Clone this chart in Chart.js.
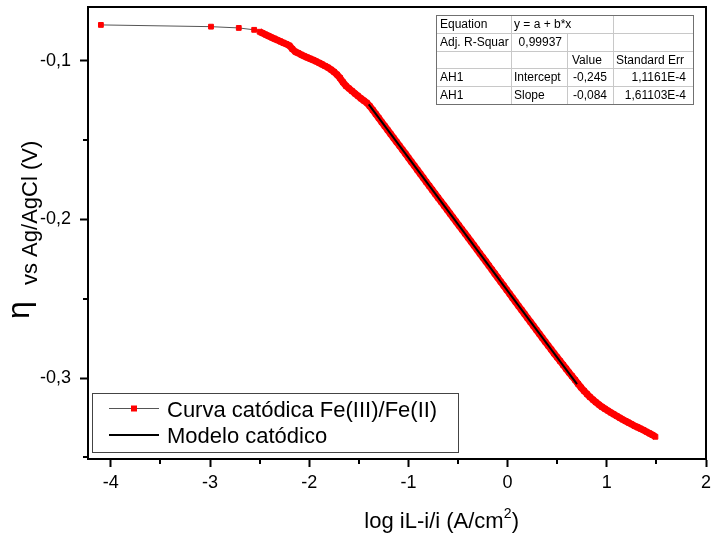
<!DOCTYPE html>
<html>
<head>
<meta charset="utf-8">
<script src="https://cdn.jsdelivr.net/npm/chart.js@4.4.1/dist/chart.umd.min.js"></script>
<style>
html, body { margin: 0; padding: 0; background: #fff; }
</style>
</head>
<body>
<canvas id="polarizationGraph" width="713" height="539"></canvas>
<script>
var fontFamily = "'Liberation Sans', Arial, sans-serif";

// cathodic curve, log((iL-i)/i) vs overpotential
var logCurrent = [
    -4.10, -2.99, -2.71, -2.555,
    -2.50, -2.47, -2.44, -2.41, -2.38, -2.35, -2.32, -2.29, -2.26, -2.23,
    -2.20, -2.17, -2.14, -2.11, -2.08, -2.05, -2.02, -1.99, -1.96, -1.93,
    -1.90, -1.87, -1.84, -1.81, -1.78, -1.75, -1.72, -1.69, -1.66, -1.63,
    -1.60, -1.57, -1.54, -1.51, -1.48, -1.45, -1.42, -1.39, -1.36, -1.33,
    -1.30, -1.27, -1.24, -1.21, -1.18, -1.15, -1.12, -1.09, -1.06, -1.03,
    -1.00, -0.97, -0.94, -0.91, -0.88, -0.85, -0.82, -0.79, -0.76, -0.73,
    -0.70, -0.67, -0.64, -0.61, -0.58, -0.55, -0.52, -0.49, -0.46, -0.43,
    -0.40, -0.37, -0.34, -0.31, -0.28, -0.25, -0.22, -0.19, -0.16, -0.13,
    -0.10, -0.07, -0.04, -0.01, 0.02, 0.05, 0.08, 0.11, 0.14, 0.17,
    0.20, 0.23, 0.26, 0.29, 0.32, 0.35, 0.38, 0.41, 0.44, 0.47,
    0.50, 0.53, 0.56, 0.59, 0.62, 0.65, 0.68, 0.71, 0.74, 0.77,
    0.80, 0.83, 0.86, 0.89, 0.92, 0.95, 0.98, 1.01, 1.04, 1.07,
    1.10, 1.13, 1.16, 1.19, 1.22, 1.25, 1.28, 1.31, 1.34, 1.37,
    1.40, 1.43, 1.46, 1.49
];
var overpotential = [
    -0.0773, -0.0784, -0.0792, -0.0804,
    -0.0816, -0.0825, -0.0834, -0.0843, -0.0852, -0.0860, -0.0869, -0.0877, -0.0886, -0.0894,
    -0.0903, -0.0925, -0.0942, -0.0951, -0.0961, -0.0970, -0.0978, -0.0986, -0.0994, -0.1003,
    -0.1012, -0.1022, -0.1032, -0.1042, -0.1055, -0.1069, -0.1086, -0.1107, -0.1134, -0.1157,
    -0.1173, -0.1189, -0.1205, -0.1220, -0.1236, -0.1250, -0.1264, -0.1285, -0.1309, -0.1334,
    -0.1359, -0.1385, -0.1410, -0.1435, -0.1460, -0.1485, -0.1510, -0.1535, -0.1560, -0.1585,
    -0.1611, -0.1636, -0.1661, -0.1687, -0.1712, -0.1737, -0.1763, -0.1788, -0.1813, -0.1838,
    -0.1863, -0.1888, -0.1913, -0.1938, -0.1963, -0.1988, -0.2013, -0.2038, -0.2063, -0.2088,
    -0.2113, -0.2138, -0.2163, -0.2188, -0.2214, -0.2239, -0.2264, -0.2290, -0.2315, -0.2341,
    -0.2366, -0.2392, -0.2417, -0.2443, -0.2468, -0.2494, -0.2519, -0.2545, -0.2570, -0.2595,
    -0.2621, -0.2646, -0.2671, -0.2696, -0.2721, -0.2746, -0.2771, -0.2796, -0.2820, -0.2845,
    -0.2869, -0.2893, -0.2917, -0.2941, -0.2965, -0.2988, -0.3011, -0.3036, -0.3059, -0.3080,
    -0.3100, -0.3119, -0.3136, -0.3152, -0.3167, -0.3181, -0.3193, -0.3205, -0.3217, -0.3228,
    -0.3239, -0.3250, -0.3261, -0.3271, -0.3281, -0.3291, -0.3301, -0.3310, -0.3319, -0.3328,
    -0.3338, -0.3348, -0.3358, -0.3370
];

// linear model (Tafel fit)
var modelX = [-1.40, 0.70];
var modelY = [-0.1274, -0.3038];

var xTicks = [-4, -3, -2, -1, 0, 1, 2];
var xMinorTicks = [-3.5, -2.5, -1.5, -0.5, 0.5, 1.5];
var yTicks = [-0.3, -0.2, -0.1];
var yMinorTicks = [-0.35, -0.25, -0.15];

var tableRows = [
    ["Equation", "y = a + b*x", "", ""],
    ["Adj. R-Squar", "0,99937", "", ""],
    ["", "", "Value", "Standard Err"],
    ["AH1", "Intercept", "-0,245", "1,1161E-4"],
    ["AH1", "Slope", "-0,084", "1,61103E-4"]
];

var curvePoints = logCurrent.map((x, i) => ({ x: x, y: overpotential[i] }));
var modelPoints = modelX.map((x, i) => ({ x: x, y: modelY[i] }));

function decimalComma(value) {
    return String(value).replace(".", ",");
}

// dense stretches of the recorded curve merge into a solid red band
function isDenseSegment(ctx) {
    return ctx.p1.parsed.x - ctx.p0.parsed.x < 0.04;
}

var extrasPlugin = {
    id: "extras",
    afterDraw: function (chart) {
        var ctx = chart.ctx;
        var area = chart.chartArea;
        var xs = chart.scales.x;
        var ys = chart.scales.y;
        ctx.save();

        // frame top and right
        ctx.strokeStyle = "#000";
        ctx.lineWidth = 2;
        ctx.beginPath();
        ctx.moveTo(area.left, area.top);
        ctx.lineTo(area.right, area.top);
        ctx.lineTo(area.right, area.bottom);
        ctx.stroke();

        // minor ticks
        ctx.beginPath();
        for (var v of xMinorTicks) {
            var px = Math.round(xs.getPixelForValue(v));
            ctx.moveTo(px, area.bottom);
            ctx.lineTo(px, area.bottom + 5);
        }
        for (var v of yMinorTicks) {
            var py = Math.round(ys.getPixelForValue(v));
            ctx.moveTo(area.left, py);
            ctx.lineTo(area.left - 5, py);
        }
        ctx.stroke();

        // axis titles
        ctx.fillStyle = "#000";
        ctx.textBaseline = "alphabetic";
        ctx.textAlign = "left";
        ctx.font = "22px " + fontFamily;
        var xTitle = "log iL-i/i (A/cm";
        var tw = ctx.measureText(xTitle).width;
        var tx = 444 - (tw + 20) / 2;
        ctx.fillText(xTitle, tx, 528);
        ctx.font = "14px " + fontFamily;
        ctx.fillText("2", tx + tw, 518);
        ctx.font = "22px " + fontFamily;
        ctx.fillText(")", tx + tw + 8, 528);

        ctx.save();
        ctx.translate(29, 319);
        ctx.rotate(-Math.PI / 2);
        ctx.font = "32px " + fontFamily;
        ctx.fillText("\u03b7", 0, 0);
        ctx.restore();
        ctx.save();
        ctx.translate(37, 285);
        ctx.rotate(-Math.PI / 2);
        ctx.font = "22px " + fontFamily;
        ctx.fillText("vs Ag/AgCl (V)", 0, 0);
        ctx.restore();

        // legend
        ctx.fillStyle = "#fff";
        ctx.fillRect(92.5, 393.5, 366, 59);
        ctx.strokeStyle = "#444";
        ctx.lineWidth = 1;
        ctx.strokeRect(92.5, 393.5, 366, 59);
        ctx.strokeStyle = "#555";
        ctx.beginPath();
        ctx.moveTo(109, 408.5);
        ctx.lineTo(159, 408.5);
        ctx.stroke();
        ctx.fillStyle = "#ff0000";
        ctx.fillRect(131, 405.5, 6, 6);
        ctx.strokeStyle = "#000";
        ctx.lineWidth = 2;
        ctx.beginPath();
        ctx.moveTo(109, 435);
        ctx.lineTo(159, 435);
        ctx.stroke();
        ctx.fillStyle = "#000";
        ctx.font = "22px " + fontFamily;
        ctx.fillText(chart.data.datasets[1].label, 167, 416.5);
        ctx.fillText(chart.data.datasets[0].label, 167, 443);

        // fit table
        var cols = [436, 511, 567, 613, 693];
        var rows = [15, 33, 51, 68, 86, 104];
        ctx.fillStyle = "#fff";
        ctx.fillRect(cols[0], rows[0], cols[4] - cols[0], rows[5] - rows[0]);
        ctx.strokeStyle = "#c8c8c8";
        ctx.lineWidth = 1;
        ctx.beginPath();
        for (var r = 1; r < 5; r++) {
            ctx.moveTo(cols[0], rows[r] + 0.5);
            ctx.lineTo(cols[4], rows[r] + 0.5);
        }
        for (var c = 1; c < 4; c++) {
            var startRow = (c === 2) ? 1 : 0;
            ctx.moveTo(cols[c] + 0.5, rows[startRow]);
            ctx.lineTo(cols[c] + 0.5, rows[5]);
        }
        ctx.stroke();
        ctx.strokeStyle = "#707070";
        ctx.strokeRect(cols[0] + 0.5, rows[0] + 0.5, cols[4] - cols[0], rows[5] - rows[0]);
        ctx.fillStyle = "#000";
        ctx.font = "12px " + fontFamily;
        for (var r = 0; r < tableRows.length; r++) {
            var base = rows[r] + 13;
            var cells = tableRows[r];
            ctx.textAlign = "left";
            ctx.fillText(cells[0], cols[0] + 4, base);
            if (r === 1) {
                ctx.textAlign = "right";
                ctx.fillText(cells[1], cols[2] - 5, base);
            } else {
                ctx.textAlign = "left";
                ctx.fillText(cells[1], cols[1] + 3, base);
            }
            if (r === 2) {
                ctx.textAlign = "left";
                ctx.fillText(cells[2], cols[2] + 5, base);
                ctx.fillText(cells[3], cols[3] + 3, base);
            } else {
                ctx.textAlign = "right";
                ctx.fillText(cells[2], cols[3] - 6, base);
                ctx.fillText(cells[3], cols[4] - 7, base);
            }
        }
        ctx.restore();
    },
};

var config = {
    type: "scatter",
    data: {
        datasets: [
            {
                label: "Modelo catódico",
                data: modelPoints,
                showLine: true,
                borderColor: "#000",
                borderWidth: 2,
                pointRadius: 0,
                order: 0,
            },
            {
                label: "Curva catódica Fe(III)/Fe(II)",
                data: curvePoints,
                showLine: true,
                borderColor: "#555",
                borderWidth: 1,
                borderJoinStyle: "round",
                segment: {
                    borderColor: (ctx) => (isDenseSegment(ctx) ? "#ff0000" : "#555"),
                    borderWidth: (ctx) => (isDenseSegment(ctx) ? 7 : 1),
                },
                pointStyle: "rect",
                pointRadius: 3.4,
                pointBackgroundColor: "#ff0000",
                pointBorderColor: "#ff0000",
                pointBorderWidth: 1,
                order: 1,
            },
        ],
    },
    options: {
        responsive: false,
        animation: false,
        layout: { padding: { left: 0, right: 7, top: 7, bottom: 0 } },
        plugins: {
            legend: { display: false },
            tooltip: { enabled: false },
        },
        scales: {
            x: {
                type: "linear",
                min: -4.23,
                max: 2,
                afterBuildTicks: function (scale) {
                    scale.ticks = xTicks.map((v) => ({ value: v }));
                },
                afterFit: function (scale) {
                    scale.height = 80;
                    scale.paddingLeft = 0;
                    scale.paddingRight = 0;
                },
                grid: { drawOnChartArea: false, tickLength: 8, tickWidth: 2, tickColor: "#000" },
                border: { color: "#000", width: 2 },
                ticks: {
                    color: "#000",
                    padding: 5,
                    maxRotation: 0,
                    font: { family: fontFamily, size: 18 },
                    callback: function (value) {
                        return decimalComma(value);
                    },
                },
            },
            y: {
                type: "linear",
                min: -0.351,
                max: -0.066,
                afterBuildTicks: function (scale) {
                    scale.ticks = yTicks.map((v) => ({ value: v }));
                },
                afterFit: function (scale) {
                    scale.width = 88;
                    scale.paddingTop = 0;
                    scale.paddingBottom = 0;
                },
                grid: { drawOnChartArea: false, tickLength: 8, tickWidth: 2, tickColor: "#000" },
                border: { color: "#000", width: 2 },
                ticks: {
                    color: "#000",
                    padding: 9,
                    font: { family: fontFamily, size: 18 },
                    callback: function (value) {
                        return decimalComma(value);
                    },
                },
            },
        },
    },
    plugins: [extrasPlugin],
};

var polarizationGraph = new Chart("polarizationGraph", config);
</script>
</body>
</html>
